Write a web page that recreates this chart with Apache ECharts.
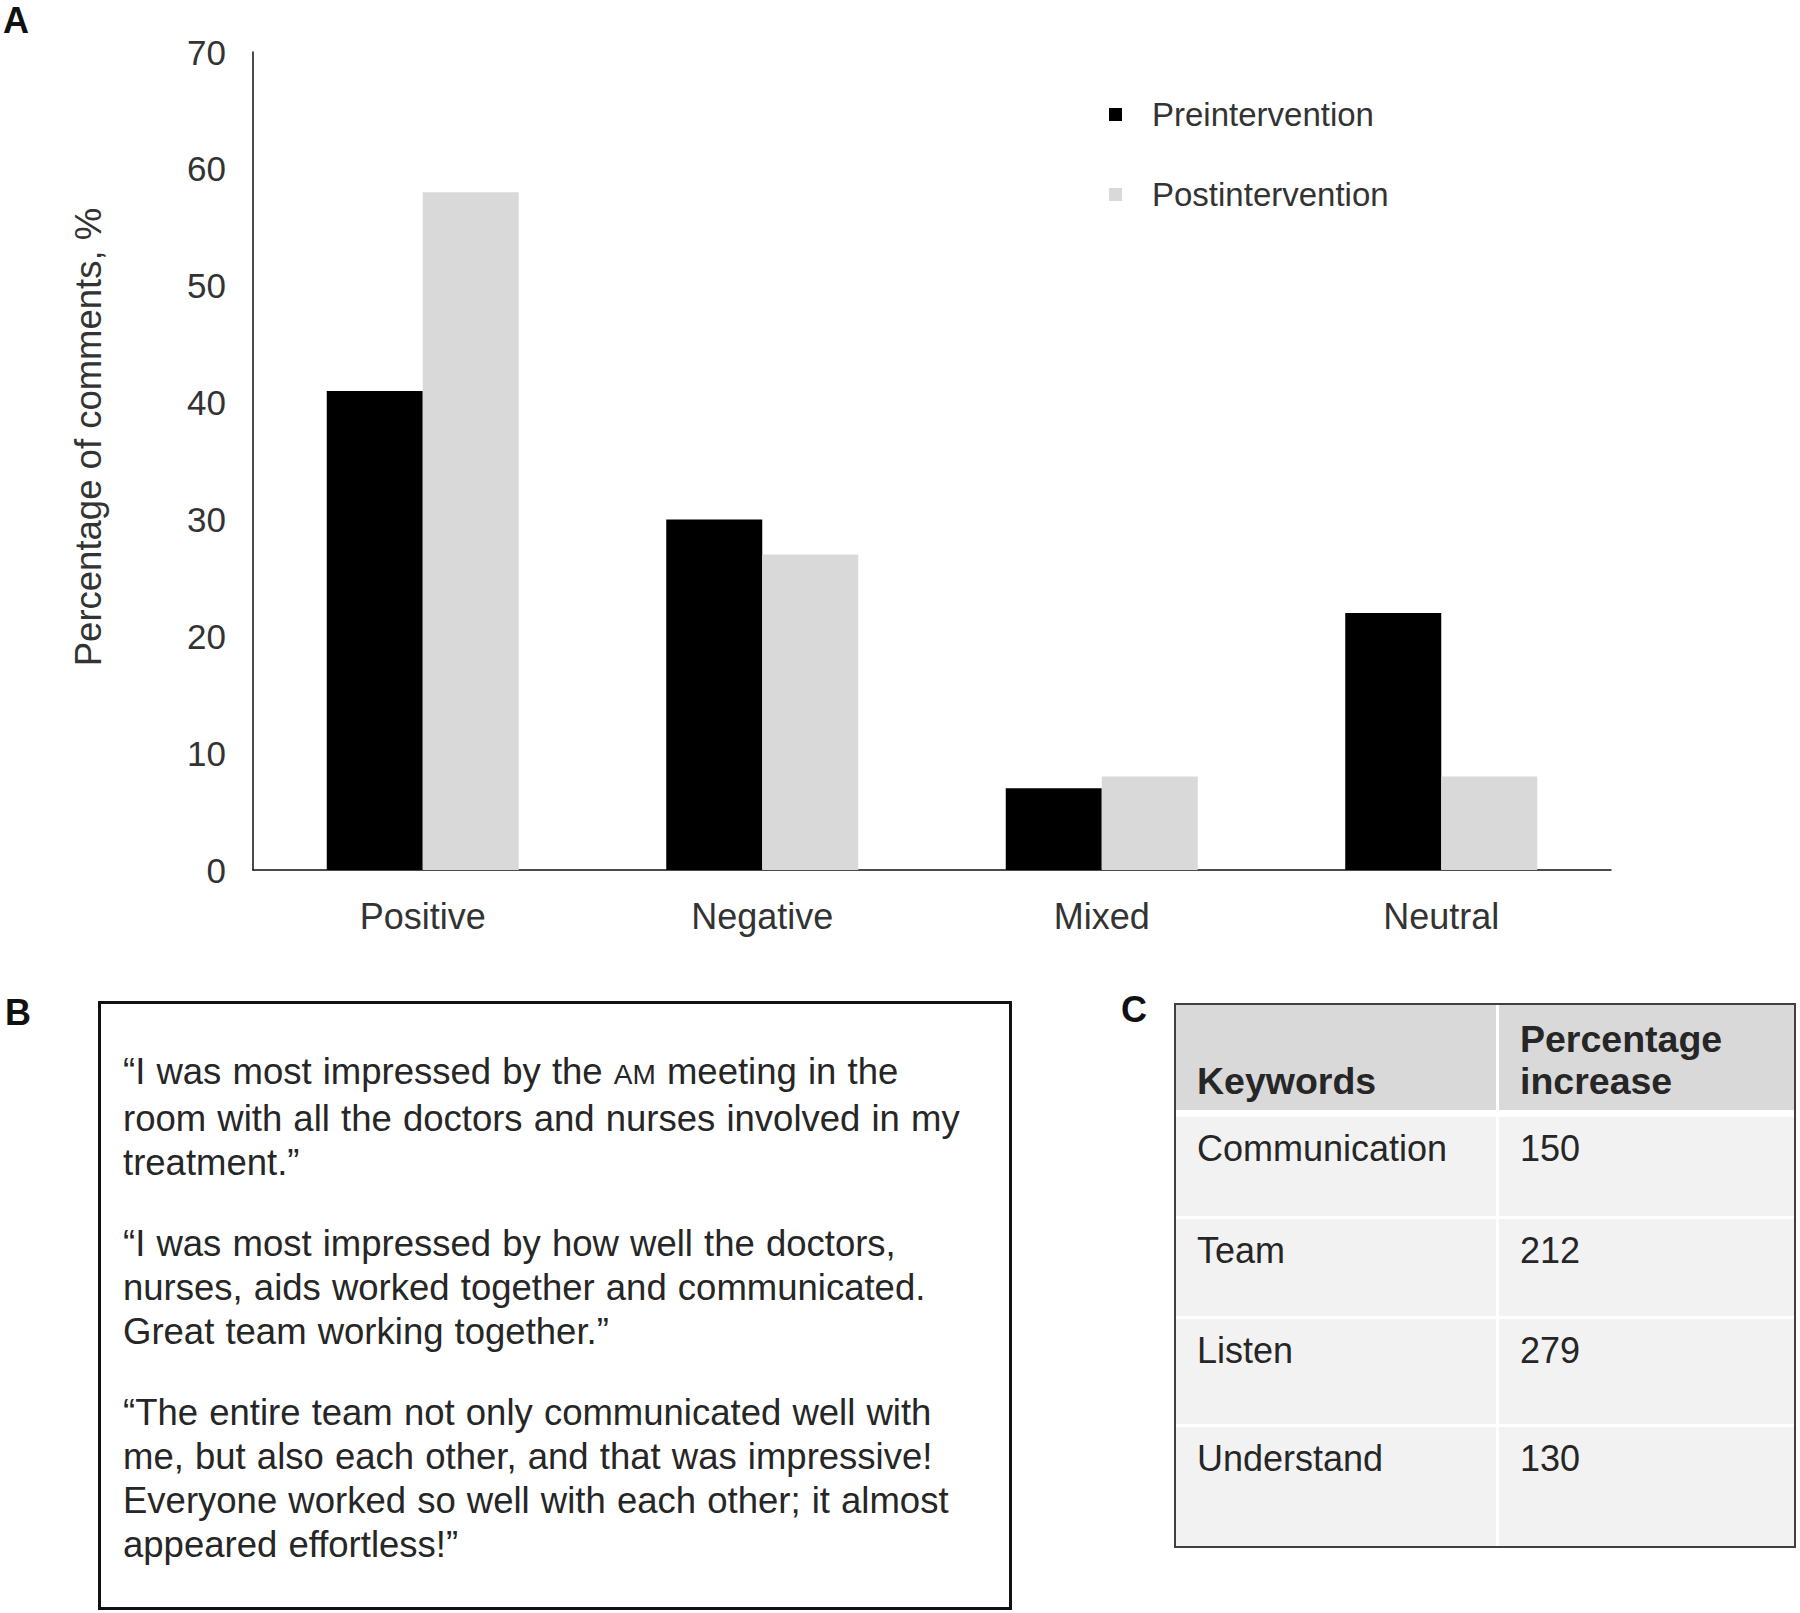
<!DOCTYPE html>
<html>
<head>
<meta charset="utf-8">
<title>Patient comments</title>
<script src="https://cdn.jsdelivr.net/npm/echarts@6/dist/echarts.min.js"></script>
<style>
body { margin:0; background:#fff; font-family:"Liberation Sans", Arial, sans-serif; }
#page { position:relative; width:1800px; height:1613px; overflow:hidden; }
#chartA { position:absolute; left:0; top:0; width:1800px; height:960px; }
.plabel { position:absolute; font-weight:bold; font-size:36px; line-height:40px; color:#111; }
#quotes { position:absolute; left:98px; top:1001px; width:914px; height:609px; box-sizing:border-box;
  border:3px solid #111; padding:46px 0 0 22px; color:#262626; font-size:36.5px; line-height:44px; word-spacing:1px; }
#quotes p { margin:0 0 37px 0; white-space:nowrap; }
#quotes .sc { font-size:28px; }
#tbl { position:absolute; left:1174px; top:1003px; width:622px; height:545px; box-sizing:border-box;
  border:2px solid #404040; background:#fff; display:grid; grid-template-columns:320px 1fr;
  grid-template-rows:105px 106px 100px 108px 1fr; column-gap:3px; color:#262626; font-size:36px; }
#tbl div { box-sizing:border-box; padding-left:21px; }
#tbl .hd { background:#d9d9d9; font-weight:bold; font-size:37.5px; line-height:42px; display:flex; flex-direction:column;
  justify-content:flex-end; padding-bottom:8px; }
#tbl .cell { background:#f2f2f2; border-top:3px solid #fff; line-height:40px; padding-top:12px; background-clip:padding-box; }
#tbl .first { border-top-width:7px; }
</style>
</head>
<body>
<div id="page">
  <div id="chartA"></div>
  <div class="plabel" style="left:3px;top:1px;">A</div>
  <div class="plabel" style="left:5px;top:993px;">B</div>
  <div class="plabel" style="left:1121px;top:990px;">C</div>
  <div id="quotes"></div>
  <div id="tbl"></div>
</div>
<script>
// panel A data
var categories = ['Positive', 'Negative', 'Mixed', 'Neutral'];
var preValues = [41, 30, 7, 22];
var postValues = [58, 27, 8, 8];
var seriesNames = ['Preintervention', 'Postintervention'];
var yMin = 0, yMax = 70, yStep = 10;

// panel B quotes, one array of lines per quote
var quotes = [
    ['\u201cI was most impressed by the AM meeting in the',
     'room with all the doctors and nurses involved in my',
     'treatment.\u201d'],
    ['\u201cI was most impressed by how well the doctors,',
     'nurses, aids worked together and communicated.',
     'Great team working together.\u201d'],
    ['\u201cThe entire team not only communicated well with',
     'me, but also each other, and that was impressive!',
     'Everyone worked so well with each other; it almost',
     'appeared effortless!\u201d']
];

// panel C table
var tableHeader = ['Keywords', 'Percentage<br>increase'];
var keywords = ['Communication', 'Team', 'Listen', 'Understand'];
var increases = [150, 212, 279, 130];

var font = '"Liberation Sans", Arial, sans-serif';
var chart = echarts.init(document.getElementById('chartA'), null, {renderer: 'svg'});
var option = {
    animation: false,
    grid: {left: 253, top: 52, right: 189, bottom: 90, containLabel: false},
    legend: {
        orient: 'vertical',
        left: 1104,
        top: 93,
        itemWidth: 13,
        itemHeight: 13,
        itemGap: 47,
        icon: 'rect',
        data: seriesNames,
        textStyle: {fontFamily: font, fontSize: 33, color: '#333', padding: [0, 0, 0, 25]}
    },
    xAxis: {
        type: 'category',
        data: categories,
        axisLine: {lineStyle: {color: '#111', width: 1.5}},
        axisTick: {show: false},
        axisLabel: {fontFamily: font, fontSize: 36, color: '#333', margin: 28}
    },
    yAxis: {
        type: 'value',
        min: yMin,
        max: yMax,
        interval: yStep,
        name: 'Percentage of comments, %',
        nameLocation: 'middle',
        nameGap: 146,
        nameTextStyle: {fontFamily: font, fontSize: 36.5, color: '#333', padding: [0, 0, 0, 48]},
        axisLine: {show: true, lineStyle: {color: '#111', width: 1.5}},
        axisTick: {show: false},
        splitLine: {show: false},
        axisLabel: {fontFamily: font, fontSize: 35, color: '#333', margin: 27}
    },
    series: [
        {name: seriesNames[0], type: 'bar', data: preValues, barWidth: 96, barGap: '0%',
         itemStyle: {color: '#000'}},
        {name: seriesNames[1], type: 'bar', data: postValues, barWidth: 96, barGap: '0%',
         itemStyle: {color: '#d9d9d9'}}
    ]
};
chart.setOption(option);

var qHtml = '';
for (var i = 0; i < quotes.length; i++) {
    var lines = quotes[i].map(function (l) {
        return l.replace(' AM ', ' <span class="sc">AM</span> ');
    });
    qHtml += '<p>' + lines.join('<br>') + '</p>';
}
document.getElementById('quotes').innerHTML = qHtml;

var tHtml = '<div class="hd">' + tableHeader[0] + '</div><div class="hd">' + tableHeader[1] + '</div>';
for (var j = 0; j < keywords.length; j++) {
    var cls = j === 0 ? 'cell first' : 'cell';
    tHtml += '<div class="' + cls + '">' + keywords[j] + '</div>';
    tHtml += '<div class="' + cls + '">' + increases[j] + '</div>';
}
document.getElementById('tbl').innerHTML = tHtml;
</script>
</body>
</html>
